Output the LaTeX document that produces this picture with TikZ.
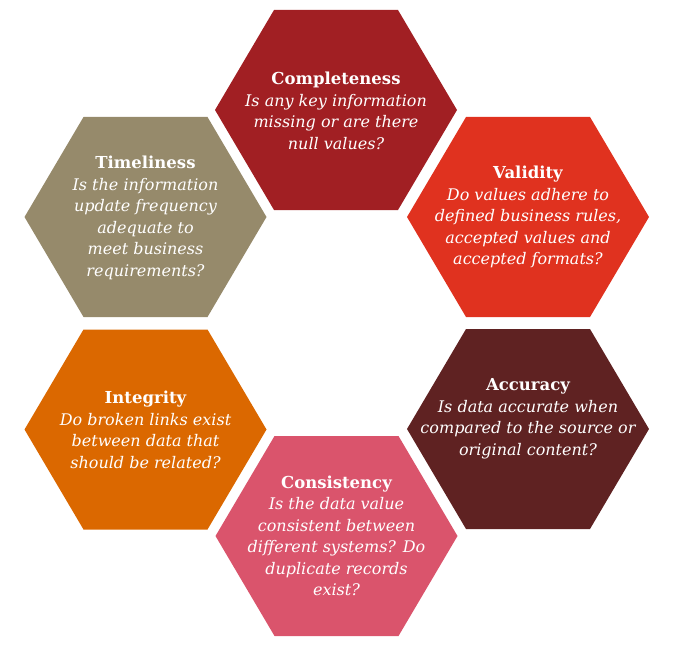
\documentclass[tikz,border=0pt]{standalone}
\usepackage{fontspec}
\setmainfont{DejaVu Serif}
\definecolor{cComp}{HTML}{A11F23}
\definecolor{cVal}{HTML}{E0321F}
\definecolor{cTime}{HTML}{968A6B}
\definecolor{cInt}{HTML}{DB6800}
\definecolor{cAcc}{HTML}{5F2222}
\definecolor{cCons}{HTML}{DA546C}
\newcommand{\hexshape}[3]{%
  \fill[#3] (#1-121,#2) -- (#1-62,#2-100) -- (#1+62,#2-100) -- (#1+121,#2) -- (#1+62,#2+100) -- (#1-62,#2+100) -- cycle;}
\tikzset{
  hextext/.style={text=white, align=center, inner sep=0pt, font=\fontsize{16}{21.5}\selectfont},
}
\newcommand{\ttl}[1]{{\fontsize{16.5}{21.5}\selectfont\bfseries #1}}
\begin{document}
\begin{tikzpicture}[x=1pt,y=-1pt]
\useasboundingbox (0,0) rectangle (676,652);
\hexshape{336}{110}{cComp}
\hexshape{145.5}{217}{cTime}
\hexshape{528}{217}{cVal}
\hexshape{145.5}{429.5}{cInt}
\hexshape{528}{429}{cAcc}
\hexshape{336.5}{536}{cCons}
\node[hextext] (comp) at (336,111) {\ttl{Completeness}\\ \itshape Is any key information\\ \itshape missing or are there\\ \itshape null values?};
\node[hextext] (time) at (145.5,218) {\ttl{Timeliness}\\ \itshape Is the information\\ \itshape update frequency\\ \itshape adequate to\\ \itshape meet business\\ \itshape requirements?};
\node[hextext] (val) at (528,217) {\ttl{Validity}\\ \itshape Do values adhere to\\ \itshape defined business rules,\\ \itshape accepted values and\\ \itshape accepted formats?};
\node[hextext] (int) at (145.5,430) {\ttl{Integrity}\\ \itshape Do broken links exist\\ \itshape between data that\\ \itshape should be related?};
\node[hextext] (acc) at (528,419) {\ttl{Accuracy}\\ \itshape Is data accurate when\\ \itshape compared to the source or\\ \itshape original content?};
\node[hextext] (cons) at (336.5,536) {\ttl{Consistency}\\ \itshape Is the data value\\ \itshape consistent between\\ \itshape different systems? Do\\ \itshape duplicate records\\ \itshape exist?};
\end{tikzpicture}
\end{document}
